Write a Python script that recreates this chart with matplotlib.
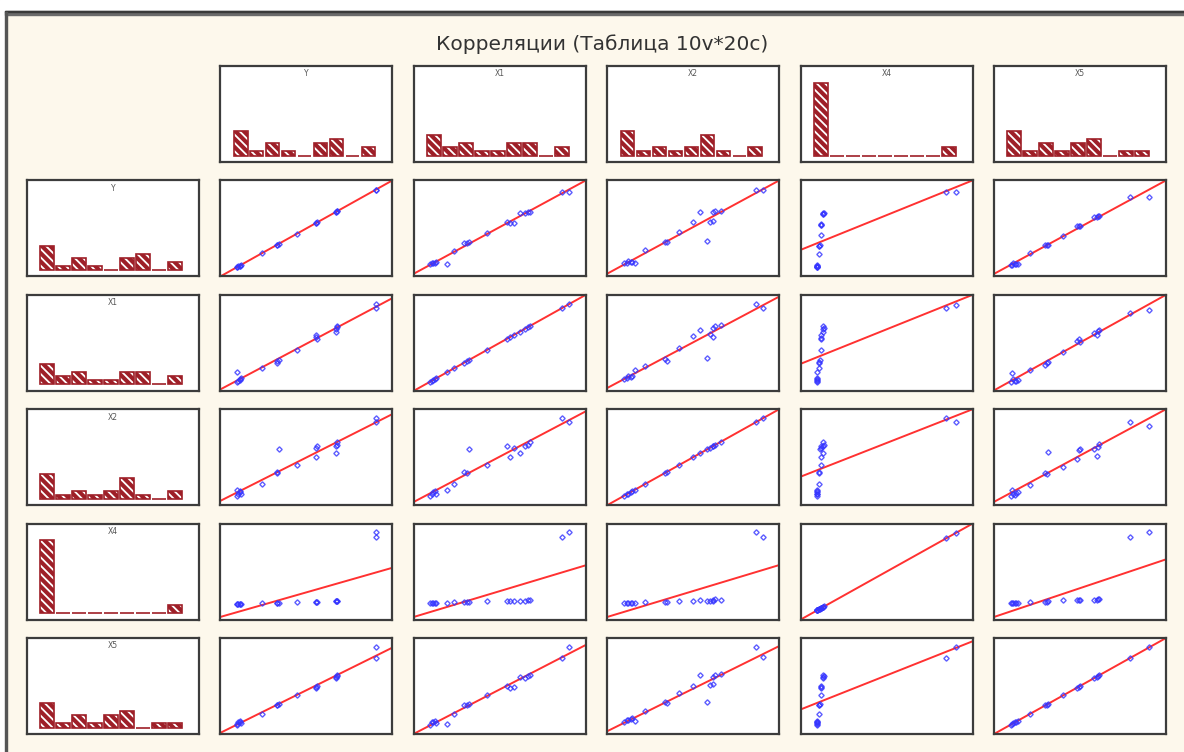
import matplotlib.pyplot as plt
import numpy as np
from matplotlib.patches import Rectangle

# 20 cases, variables Y, X1, X2, X4, X5
names = ['Y', 'X1', 'X2', 'X4', 'X5']
Y  = [0, 1, 2, 2, 3, 0, 18, 29, 29, 30, 43, 57, 57, 58, 71, 71, 72, 72, 100, 100]
X1 = [0, 1, 2, 3, 4, 12, 17, 24, 26, 28, 41, 57, 60, 55, 64.5, 68, 70, 72, 95, 100]
X2 = [0, 2, 5, 6, 3, 8, 15, 31, 30, 60, 40, 50, 62, 64, 55, 64, 66, 70, 100, 95]
X4 = [0, 0, 0, 0, 0, 0, 1.5, 1.5, 1.5, 2, 3, 3, 3, 3, 4, 4, 5, 4.5, 93, 100]
X5 = [0, 3, 4, 5, 2, 1, 14, 25, 26, 27, 38, 48, 49, 50, 62, 60, 63, 64, 86, 100]
data = {'Y': Y, 'X1': X1, 'X2': X2, 'X4': X4, 'X5': X5}

title = 'Корреляции (Таблица 10v*20c)'

W, H = 1184, 752
cream = '#fdf8ec'
barred = '#9e1f28'
frame = '#3c3c3c'

fig = plt.figure(figsize=(W / 100, H / 100), dpi=100, facecolor=cream)
plt.rcParams['hatch.linewidth'] = 1.3

# window frame: white strip on top/left with a grey border line
fig.add_artist(Rectangle((0, 1 - 11 / H), 1, 11 / H, transform=fig.transFigure, color='white', zorder=0))
fig.add_artist(Rectangle((0, 0), 5 / W, 1, transform=fig.transFigure, color='white', zorder=0))
fig.add_artist(Rectangle((5 / W, 1 - 15 / H), 1, 4 / H, transform=fig.transFigure, color='#6b6b6b', zorder=1))
fig.add_artist(Rectangle((5 / W, 1 - 12 / H), 1, 1 / H, transform=fig.transFigure, color='#3a3a3a', zorder=1))
fig.add_artist(Rectangle((5 / W, 0), 2 / W, 1 - 12 / H, transform=fig.transFigure, color='#555555', zorder=1))

fig.text(602 / W, 1 - 44 / H, title, ha='center', va='center', fontsize=14.5, color='#333333')


def panel(i, j):
    left = 27 + 193.4 * j
    top = 66 + 114.4 * i
    ax = fig.add_axes([left / W, 1 - (top + 96) / H, 172 / W, 96 / H])
    ax.set_facecolor('white')
    ax.set_xticks([])
    ax.set_yticks([])
    for s in ax.spines.values():
        s.set_color(frame)
        s.set_linewidth(1.6)
    return ax


def limits(v, m=0.12):
    lo, hi = min(v), max(v)
    r = hi - lo
    return lo - m * r, hi + m * r


def histogram(ax, name):
    v = data[name]
    lo, hi = min(v), max(v)
    r = hi - lo
    ax.hist(v, bins=9, rwidth=0.86, facecolor=barred, edgecolor='white',
            hatch='\\\\\\\\', linewidth=0)
    ax.hist(v, bins=9, rwidth=0.86, facecolor='none', edgecolor=barred, linewidth=1.2)
    ax.set_xlim(lo - 0.085 * r, hi + 0.11 * r)
    ax.set_ylim(-1.6, 22.1)
    ax.text(0.5, 0.965, name, transform=ax.transAxes, ha='center', va='top',
            fontsize=5.5, color='#555555')


def scatter(ax, xn, yn):
    x = np.array(data[xn], dtype=float)
    y = np.array(data[yn], dtype=float)
    xl = np.array(limits(x))
    slope, icpt = np.polyfit(x, y, 1)
    yl = icpt + slope * xl
    ylo, yhi = limits(y)
    # leave a little room under the fit line when it reaches below the points
    if yl.min() < ylo - 1e-6:
        ylo = yl.min() - 0.03 * (yhi - ylo)
    ax.plot(xl, yl, color='#ff1a1a', linewidth=1.4, alpha=0.9)
    ax.plot(x, y, 'D', markersize=2.7, mfc='none', mec='#3535ff', mew=1.0, alpha=0.8)
    ax.set_xlim(*xl)
    ax.set_ylim(ylo, max(yhi, yl.max()))


for j, n in enumerate(names):
    histogram(panel(0, j + 1), n)
    histogram(panel(j + 1, 0), n)

for i, yn in enumerate(names):
    for j, xn in enumerate(names):
        scatter(panel(i + 1, j + 1), xn, yn)

fig.savefig('out.png', dpi=100, facecolor=cream)
